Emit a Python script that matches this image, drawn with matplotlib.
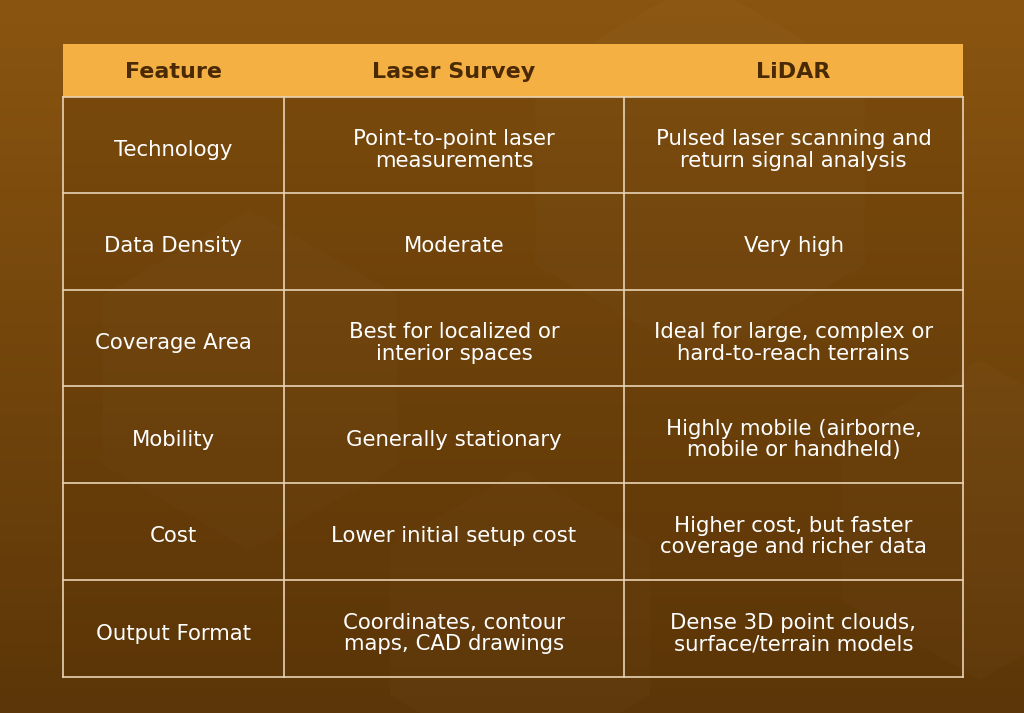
import numpy as np
import matplotlib.pyplot as plt
from matplotlib.patches import Rectangle, RegularPolygon

headers = ["Feature", "Laser Survey", "LiDAR"]
features = ["Technology", "Data Density", "Coverage Area", "Mobility", "Cost", "Output Format"]
laser = ["Point-to-point laser\nmeasurements", "Moderate", "Best for localized or\ninterior spaces",
         "Generally stationary", "Lower initial setup cost", "Coordinates, contour\nmaps, CAD drawings"]
lidar = ["Pulsed laser scanning and\nreturn signal analysis", "Very high",
         "Ideal for large, complex or\nhard-to-reach terrains", "Highly mobile (airborne,\nmobile or handheld)",
         "Higher cost, but faster\ncoverage and richer data", "Dense 3D point clouds,\nsurface/terrain models"]

W, H = 1024, 713
fig = plt.figure(figsize=(W / 100, H / 100), dpi=100)
ax = fig.add_axes([0, 0, 1, 1])
ax.set_xlim(0, W)
ax.set_ylim(H, 0)
ax.axis("off")

# background gradient
top = np.array([0x8a, 0x55, 0x10]) / 255
bot = np.array([0x5c, 0x36, 0x08]) / 255
t = np.linspace(0, 1, 256)[:, None]
grad = (top * (1 - t) + bot * t)[:, None, :]
ax.imshow(grad, extent=[0, W, H, 0], aspect="auto", zorder=0)

# faint hexagons
for cx, cy, r in [(700, 170, 190), (250, 380, 170), (980, 520, 160), (520, 620, 150)]:
    ax.add_patch(RegularPolygon((cx, cy), 6, radius=r, facecolor="white", alpha=0.02,
                                edgecolor="none", zorder=1))

x_edges = [63, 284, 624, 963]
y_edges = [44, 97, 193, 290, 386, 483, 580, 677]
line_c = "#e8d3b5"

ax.add_patch(Rectangle((x_edges[0], y_edges[0]), x_edges[-1] - x_edges[0], y_edges[1] - y_edges[0],
                       facecolor="#f5b043", edgecolor="none", zorder=2))
ax.add_patch(Rectangle((x_edges[0], y_edges[1]), x_edges[-1] - x_edges[0], y_edges[-1] - y_edges[1],
                       facecolor="#5a3406", alpha=0.25, edgecolor="none", zorder=2))

for y in y_edges[1:]:
    ax.plot([x_edges[0], x_edges[-1]], [y, y], color=line_c, lw=1.2, zorder=3)
for x in x_edges:
    ax.plot([x, x], [y_edges[1], y_edges[-1]], color=line_c, lw=1.2, zorder=3)

font = "DejaVu Sans"
for i, h in enumerate(headers):
    xc = (x_edges[i] + x_edges[i + 1]) / 2
    ax.text(xc, (y_edges[0] + y_edges[1]) / 2 + 1, h, ha="center", va="center", fontsize=16,
            fontweight="bold", color="#4a2a05", family=font, zorder=4)

for r in range(len(features)):
    yc = (y_edges[r + 1] + y_edges[r + 2]) / 2 + 5
    for c, txt in enumerate([features[r], laser[r], lidar[r]]):
        xc = (x_edges[c] + x_edges[c + 1]) / 2
        ax.text(xc, yc, txt, ha="center", va="center", fontsize=15.3, color="white",
                family=font, linespacing=1.1, zorder=4)

fig.savefig("out.png", dpi=100)
